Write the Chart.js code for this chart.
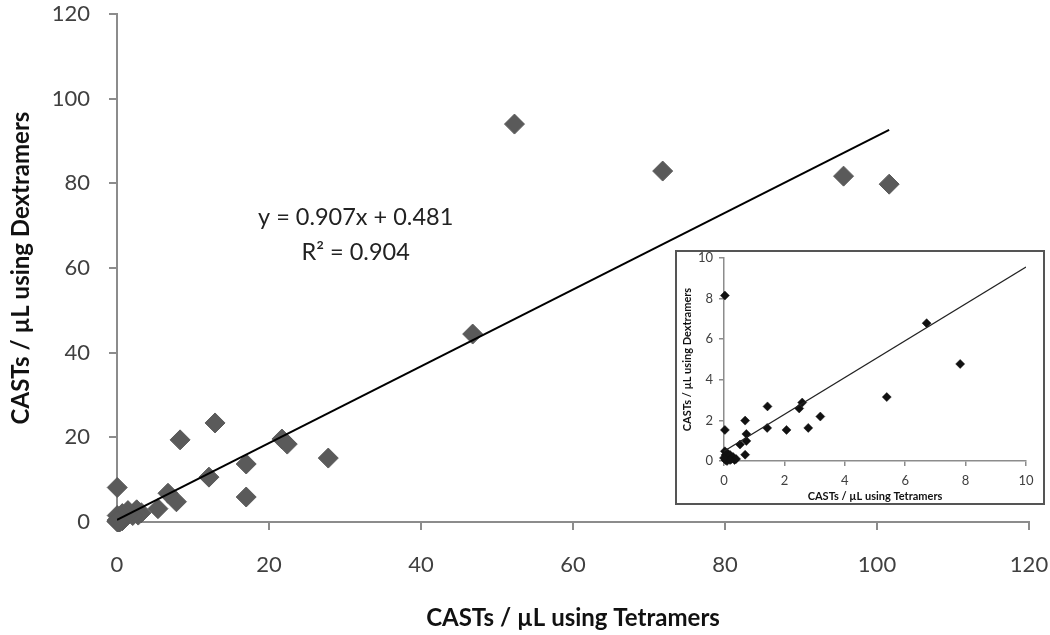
<!DOCTYPE html>
<html>
<head>
<meta charset="utf-8">
<script src="https://cdn.jsdelivr.net/npm/chart.js@4.4.1/dist/chart.umd.min.js"></script>
<style>
  html, body { margin: 0; padding: 0; background: #fff; }
  #wrap { position: relative; width: 1050px; height: 635px; }
  #inset {
    position: absolute; left: 675px; top: 250px; width: 370px; height: 255px;
    box-sizing: border-box; border: 2px solid #555; background: #fff;
  }
  canvas { display: block; }
</style>
</head>
<body>
<div id="wrap">
  <canvas id="main" width="1050" height="635"></canvas>
  <div id="inset"><canvas id="zoomed" width="366" height="251"></canvas></div>
</div>
<script>
// CASTs / µL measured with both reagents (one entry per sample)
const tetramers = [52.3, 71.8, 95.6, 101.6, 46.8, 12.9, 8.3, 21.7, 22.4, 27.8, 17.0, 17.0, 12.1,
  0.03, 6.71, 7.82, 5.39, 2.49, 2.59, 1.44, 3.19, 2.79, 2.07, 1.43, 0.70, 0.74, 0.74, 0.53, 0.70, 0.03,
  0.03, 0.05, 0.10, 0.15, 0.20, 0.25, 0.30, 0.35, 0.40, 0.05, 0.10, 0.20, 0.00];
const dextramers = [94.0, 82.9, 81.7, 79.8, 44.4, 23.4, 19.4, 19.6, 18.4, 15.1, 13.7, 5.9, 10.6,
  8.15, 6.79, 4.78, 3.15, 2.59, 2.88, 2.69, 2.19, 1.63, 1.53, 1.63, 1.99, 1.33, 0.99, 0.81, 0.31, 1.53,
  0.48, 0.30, 0.40, 0.20, 0.30, 0.10, 0.20, 0.05, 0.10, 0.05, 0.00, 0.05, 0.15];

// linear fit shown on the chart
const slope = 0.907;
const intercept = 0.481;
const equationLines = ['y = 0.907x + 0.481', 'R\u00b2 = 0.904'];
const equationAt = [[31.4, 72.0], [31.4, 63.7]];

const mainTicks = [0, 20, 40, 60, 80, 100, 120];
const insetTicks = [0, 2, 4, 6, 8, 10];
const xTitle = 'CASTs / \u00b5L using Tetramers';
const yTitle = 'CASTs / \u00b5L using Dextramers';

const points = tetramers.map((t, i) => ({ x: t, y: dextramers[i] }));
const fitLine = (from, to) => [{ x: from, y: slope * from + intercept }, { x: to, y: slope * to + intercept }];

const axisColor = '#8c8c8c';

// fixed box size, and no extra padding asked by the tick labels
const fixWidth = w => s => { s.width = w; s.paddingTop = 0; s.paddingBottom = 0; };
const fixHeight = h => s => { s.height = h; s.paddingLeft = 0; s.paddingRight = 0; };

const makeScale = (ticksArr, opts) => ({
  type: 'linear',
  min: ticksArr[0],
  max: ticksArr[ticksArr.length - 1],
  afterBuildTicks: s => { s.ticks = ticksArr.map(v => ({ value: v })); },
  ticks: { color: '#404040', font: { family: 'Lato', size: opts.tickSize, lineHeight: 1 }, padding: opts.tickPad, maxRotation: 0 },
  grid: { drawOnChartArea: false, drawTicks: true, tickLength: opts.tickLen, color: axisColor, lineWidth: opts.lw },
  border: { color: axisColor, width: opts.lw },
  title: { display: true, text: opts.title, color: '#111', font: { family: 'Lato', size: opts.titleSize, weight: 'bold', lineHeight: 1 }, padding: opts.titlePad },
  afterFit: opts.fit
});

const equationLabel = {
  id: 'equationLabel',
  afterDatasetsDraw(chart) {
    const { ctx, scales: { x, y } } = chart;
    ctx.save();
    ctx.font = '23.5px Lato';
    ctx.fillStyle = '#222';
    ctx.textAlign = 'center';
    ctx.textBaseline = 'middle';
    equationLines.forEach((line, i) => {
      ctx.fillText(line, x.getPixelForValue(equationAt[i][0]), y.getPixelForValue(equationAt[i][1]));
    });
    ctx.restore();
  }
};

new Chart(document.getElementById('main').getContext('2d'), {
  type: 'scatter',
  data: {
    datasets: [{
      type: 'line',
      data: fitLine(0, Math.max(...tetramers)),
      borderColor: '#000',
      borderWidth: 2,
      pointRadius: 0,
      fill: false
    }, {
      data: points,
      pointStyle: 'rectRot',
      pointRadius: 10,
      backgroundColor: '#5a5a5a',
      borderColor: '#5a5a5a',
      borderWidth: 1,
      clip: false
    }]
  },
  options: {
    responsive: false,
    animation: false,
    devicePixelRatio: 1,
    layout: { padding: { top: 14, right: 21, left: 0, bottom: 0 } },
    plugins: { legend: { display: false }, tooltip: { enabled: false } },
    scales: {
      x: makeScale(mainTicks, { tickSize: 22, tickPad: 24, tickLen: 8, lw: 2, title: xTitle, titleSize: 24, titlePad: { top: 0, bottom: 5 }, fit: fixHeight(113) }),
      y: makeScale(mainTicks, { tickSize: 22, tickPad: 19, tickLen: 8, lw: 2, title: yTitle, titleSize: 24, titlePad: { top: 9, bottom: 0 }, fit: fixWidth(117) })
    }
  },
  plugins: [equationLabel]
});

// inset: zoom on the 0-10 range
const insetMax = insetTicks[insetTicks.length - 1];
const insetPoints = points.filter(p => p.x <= insetMax && p.y <= insetMax);

new Chart(document.getElementById('zoomed').getContext('2d'), {
  type: 'scatter',
  data: {
    datasets: [{
      type: 'line',
      data: fitLine(0, insetMax),
      borderColor: '#222',
      borderWidth: 1.2,
      pointRadius: 0,
      fill: false
    }, {
      data: insetPoints,
      pointStyle: 'rectRot',
      pointRadius: 4.5,
      backgroundColor: '#111',
      borderColor: '#111',
      borderWidth: 0.5,
      clip: false
    }]
  },
  options: {
    responsive: false,
    animation: false,
    devicePixelRatio: 1,
    layout: { padding: { top: 6, right: 17, left: 0, bottom: 0 } },
    plugins: { legend: { display: false }, tooltip: { enabled: false } },
    scales: {
      x: makeScale(insetTicks, { tickSize: 13, tickPad: 8, tickLen: 5, lw: 1.5, title: xTitle, titleSize: 11, titlePad: { top: 0, bottom: 1 }, fit: fixHeight(42) }),
      y: makeScale(insetTicks, { tickSize: 13, tickPad: 6, tickLen: 5, lw: 1.5, title: yTitle, titleSize: 11, titlePad: { top: 5, bottom: 0 }, fit: fixWidth(47) })
    }
  }
});
</script>
</body>
</html>
